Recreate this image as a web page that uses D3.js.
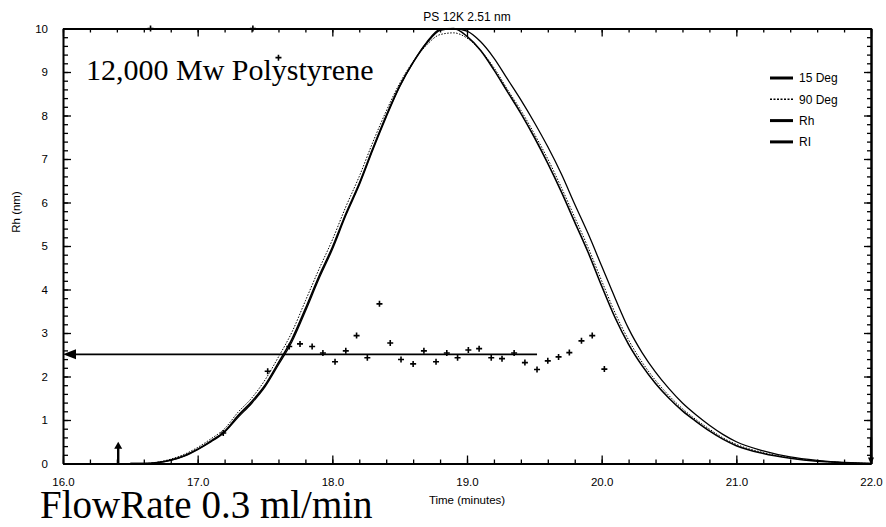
<!DOCTYPE html>
<html>
<head>
<meta charset="utf-8">
<script src="https://cdn.jsdelivr.net/npm/d3@7"></script>
<style>
  body { margin: 0; background: #fff; }
  svg { display: block; }
  .tick text { font-family: "Liberation Sans", Arial, sans-serif; font-size: 11.5px; fill: #000; }
</style>
</head>
<body>
<svg id="chart" width="886" height="527"></svg>
<script>
// Elution time grid (minutes) shared by the detector traces
const times = [16.5,16.6,16.7,16.8,16.9,17.0,17.1,17.2,17.3,17.4,17.5,17.6,17.7,17.8,17.9,
  18.0,18.1,18.2,18.3,18.4,18.5,18.6,18.7,18.8,18.9,19.0,19.1,19.2,19.3,19.4,19.5,19.6,19.7,
  19.8,19.9,20.0,20.1,20.2,20.3,20.4,20.5,20.6,20.7,20.8,20.9,21.0,21.2,21.4,21.6,21.8,22.0];

// Normalised detector responses (plotted on the 0-10 scale)
const deg15 = [0,0,0.02,0.08,0.18,0.33,0.52,0.74,1.1,1.42,1.8,2.32,2.86,3.56,4.3,
  4.97,5.74,6.44,7.24,8.0,8.68,9.22,9.66,9.96,10.0,9.82,9.5,9.05,8.55,8.05,7.5,6.9,6.25,
  5.55,4.85,4.08,3.35,2.74,2.25,1.84,1.5,1.21,0.97,0.75,0.56,0.41,0.23,0.12,0.05,0.02,0];
const deg90 = [0,0,0.03,0.1,0.21,0.37,0.57,0.8,1.18,1.5,1.92,2.45,3.02,3.74,4.46,
  5.14,5.9,6.6,7.38,8.1,8.74,9.24,9.62,9.86,9.9,9.78,9.5,9.1,8.6,8.12,7.58,7.0,6.35,
  5.66,4.96,4.2,3.46,2.84,2.33,1.91,1.56,1.26,1.01,0.79,0.59,0.44,0.25,0.13,0.06,0.02,0];
const ri = [0,0,0.02,0.07,0.17,0.32,0.5,0.72,1.06,1.38,1.76,2.27,2.8,3.5,4.24,
  4.92,5.7,6.4,7.2,7.96,8.66,9.22,9.68,9.98,10.0,9.94,9.7,9.32,8.84,8.36,7.84,7.28,6.66,
  5.96,5.28,4.54,3.8,3.1,2.55,2.1,1.72,1.39,1.12,0.88,0.67,0.5,0.29,0.15,0.07,0.02,0];

// Hydrodynamic radius slices (nm)
const rhTimes = [16.65,17.19,17.41,17.52,17.60,17.68,17.76,17.85,17.93,18.02,18.10,18.18,
  18.26,18.35,18.43,18.51,18.60,18.68,18.77,18.85,18.93,19.01,19.09,19.18,19.26,19.35,
  19.43,19.52,19.60,19.68,19.76,19.85,19.93,20.02];
const rhValues = [10.0,0.7,10.0,2.12,9.33,2.69,2.75,2.69,2.54,2.34,2.59,2.94,
  2.43,3.67,2.77,2.39,2.29,2.59,2.34,2.54,2.43,2.61,2.64,2.43,2.41,2.54,
  2.32,2.16,2.36,2.45,2.55,2.82,2.94,2.17];

// Average Rh marker and injection marker
const avgRh = 2.51;
const avgRhEnd = 19.52;
const injectTime = 16.41;
const injectHeight = 0.5;

const xTicks = [16, 17, 18, 19, 20, 21, 22];
const yTicks = [0,1,2,3,4,5,6,7,8,9,10];
const legendLabels = ["15 Deg", "90 Deg", "Rh", "RI"];

const sampleTitle = "PS 12K 2.51 nm";
const sampleNote = "12,000 Mw Polystyrene";
const flowNote = "FlowRate 0.3 ml/min";
const xTitle = "Time (minutes)";
const yTitle = "Rh (nm)";

const svg = d3.select("#chart");
const sans = "'Liberation Sans', Arial, sans-serif";
const serif = "'Liberation Serif', 'Times New Roman', serif";

const x = d3.scaleLinear().domain([16, 22]).range([63, 871]);
const y = d3.scaleLinear().domain([0, 10]).range([463.5, 28.5]);

const minorX = d3.range(16, 22.001, 0.2).map(v => +v.toFixed(1));
const minorY = d3.range(0, 10.001, 0.2).map(v => +v.toFixed(1));

// clip region for the traces
svg.append("defs").append("clipPath").attr("id", "plotClip")
  .append("rect").attr("x", x(16)).attr("y", y(10) - 1)
  .attr("width", x(22) - x(16)).attr("height", y(0) - y(10) + 1);

// Axes: all ticks point into the plot
function axisGroup(axis, tx, ty, width) {
  const g = svg.append("g").attr("transform", `translate(${tx},${ty})`).call(axis);
  g.selectAll("path.domain").attr("stroke", "#000").attr("stroke-width", width);
  g.selectAll(".tick line").attr("stroke", "#000").attr("stroke-width", 1.3);
  return g;
}

// bottom
axisGroup(d3.axisBottom(x).tickValues(minorX).tickFormat("").tickSizeInner(-4).tickSizeOuter(0), 0, y(0), 2);
axisGroup(d3.axisBottom(x).tickValues(xTicks).tickFormat(d3.format(".1f")).tickSizeInner(-8).tickSizeOuter(0).tickPadding(14), 0, y(0), 2);
// top
axisGroup(d3.axisTop(x).tickValues(minorX).tickFormat("").tickSizeInner(-4).tickSizeOuter(0), 0, y(10), 2);
axisGroup(d3.axisTop(x).tickValues(xTicks).tickFormat("").tickSizeInner(-8).tickSizeOuter(0), 0, y(10), 2);
// left
axisGroup(d3.axisLeft(y).tickValues(minorY).tickFormat("").tickSizeInner(-5).tickSizeOuter(0), x(16), 0, 1.6);
axisGroup(d3.axisLeft(y).tickValues(yTicks).tickFormat(d3.format("d")).tickSizeInner(-8).tickSizeOuter(0).tickPadding(15), x(16), 0, 1.6);
// right
axisGroup(d3.axisRight(y).tickValues(minorY).tickFormat("").tickSizeInner(-4).tickSizeOuter(0), x(22), 0, 2);
axisGroup(d3.axisRight(y).tickValues(yTicks).tickFormat("").tickSizeInner(-7).tickSizeOuter(0), x(22), 0, 2);

// Traces
const line = d3.line().x(d => x(d[0])).y(d => y(d[1])).curve(d3.curveMonotoneX);
const plot = svg.append("g").attr("clip-path", "url(#plotClip)");

plot.append("path").datum(d3.zip(times, ri))
  .attr("d", line).attr("fill", "none").attr("stroke", "#000").attr("stroke-width", 1.3);
plot.append("path").datum(d3.zip(times, deg90))
  .attr("d", line).attr("fill", "none").attr("stroke", "#000").attr("stroke-width", 1)
  .attr("stroke-dasharray", "1.5,1.5");
plot.append("path").datum(d3.zip(times, deg15))
  .attr("d", line).attr("fill", "none").attr("stroke", "#000").attr("stroke-width", 1.6);

// Rh slices as plus markers
const plus = "M-3,0H3M0,-3V3";
svg.append("g").selectAll("path").data(d3.zip(rhTimes, rhValues)).join("path")
  .attr("transform", d => `translate(${x(d[0])},${y(d[1])})`)
  .attr("d", plus).attr("stroke", "#000").attr("stroke-width", 1.6).attr("fill", "none");

// Average Rh arrow to the left axis
svg.append("line")
  .attr("x1", x(16) + 10).attr("x2", x(avgRhEnd))
  .attr("y1", y(avgRh)).attr("y2", y(avgRh))
  .attr("stroke", "#000").attr("stroke-width", 1.8);
svg.append("path")
  .attr("d", `M${x(16)},${y(avgRh)}L${x(16) + 13},${y(avgRh) - 5}L${x(16) + 13},${y(avgRh) + 5}Z`)
  .attr("fill", "#000");

// Injection marker
svg.append("line")
  .attr("x1", x(injectTime)).attr("x2", x(injectTime))
  .attr("y1", y(0)).attr("y2", y(injectHeight) + 5)
  .attr("stroke", "#000").attr("stroke-width", 2.4);
svg.append("path")
  .attr("d", `M${x(injectTime)},${y(injectHeight)}L${x(injectTime) - 4},${y(injectHeight) + 7}L${x(injectTime) + 4},${y(injectHeight) + 7}Z`)
  .attr("fill", "#000");

// end-of-run marker on the right axis
svg.append("path")
  .attr("d", `M${x(22)},${y(0) + 1}L${x(22) - 3},${y(0) - 6}L${x(22) + 3},${y(0) - 6}Z`)
  .attr("fill", "#000");
svg.append("line")
  .attr("x1", x(22)).attr("x2", x(22)).attr("y1", y(0) - 4).attr("y2", y(0.6))
  .attr("stroke", "#000").attr("stroke-width", 2.2);

// Legend
const legend = svg.append("g").attr("transform", "translate(770,78)");
const legendStyle = [
  { w: 3, dash: null },
  { w: 1.4, dash: "2,1.5" },
  { w: 3, dash: null },
  { w: 3, dash: null }
];
legendLabels.forEach((lab, i) => {
  const gy = i * 21.3;
  legend.append("line").attr("x1", 0).attr("x2", 23).attr("y1", gy).attr("y2", gy)
    .attr("stroke", "#000").attr("stroke-width", legendStyle[i].w)
    .attr("stroke-dasharray", legendStyle[i].dash);
  legend.append("text").attr("x", 29).attr("y", gy).attr("dy", "0.35em")
    .attr("font-family", sans).attr("font-size", 12).text(lab);
});

// Titles and notes
svg.append("text").attr("x", 467).attr("y", 21).attr("text-anchor", "middle")
  .attr("font-family", sans).attr("font-size", 12).text(sampleTitle);
svg.append("text").attr("x", 467).attr("y", 504).attr("text-anchor", "middle")
  .attr("font-family", sans).attr("font-size", 11.5).text(xTitle);
svg.append("text").attr("transform", "translate(20,212) rotate(-90)").attr("text-anchor", "middle")
  .attr("font-family", sans).attr("font-size", 11.5).text(yTitle);
svg.append("text").attr("x", 86).attr("y", 80)
  .attr("font-family", serif).attr("font-size", 30).text(sampleNote);
svg.append("text").attr("x", 40).attr("y", 518)
  .attr("font-family", serif).attr("font-size", 39).text(flowNote);
</script>
</body>
</html>
